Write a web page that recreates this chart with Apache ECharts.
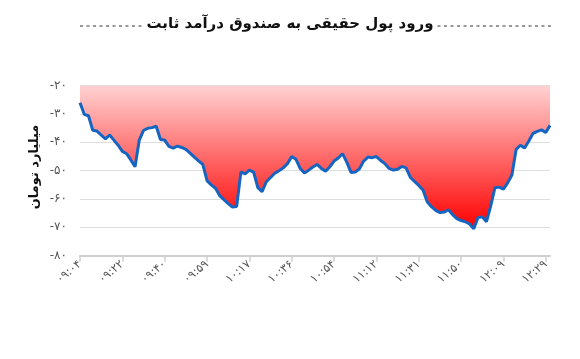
<!DOCTYPE html>
<html>
<head>
<meta charset="utf-8">
<script src="https://cdn.jsdelivr.net/npm/echarts@6/dist/echarts.min.js"></script>
<style>
html,body{margin:0;padding:0;background:#fff;}
#c{width:580px;height:359px;}
</style>
</head>
<body>
<div id="c"></div>
<script>
var titleText = 'ورود پول حقیقی به صندوق درآمد ثابت';
var yAxisName = 'میلیارد تومان';
var tickLabels = ['09:04','09:22','09:40','09:59','10:17','10:36','10:54','11:12','11:31','11:50','12:09','12:29'];
var values = [
 -26, -30.1, -30.6, -35.7, -36.0, -37.4, -38.8, -37.4, -39.2, -41.0,
 -43.2, -44.0, -46.2, -48.6, -39.2, -35.8, -35.0, -34.8, -34.3, -39.0,
 -39.2, -41.4, -42.0, -41.3, -41.8, -42.5, -43.8, -45.2, -46.5, -47.8,
 -53.5, -55.0, -56.2, -58.8, -60.2, -61.6, -62.8, -62.6, -50.4, -51.1,
 -49.8, -50.5, -56.0, -57.4, -53.9, -52.4, -50.9, -50.0, -49.0, -47.5,
 -45.0, -46.0, -49.2, -50.8, -49.8, -48.7, -47.8, -49.2, -50.2, -48.6,
 -46.6, -45.5, -44.0, -47.0, -50.6, -50.5, -49.3, -46.6, -45.2, -45.4,
 -45.0, -46.4, -47.5, -49.2, -49.8, -49.5, -48.5, -49.0, -52.3, -53.8,
 -55.2, -56.8, -61.0, -62.7, -64.0, -64.8, -64.6, -63.8, -65.5, -66.9,
 -67.6, -68.0, -68.8, -70.5, -66.5, -66.3, -68.0, -62.4, -56.0, -55.8,
 -56.5, -54.3, -51.5, -42.5, -41.0, -42.0, -39.5, -36.8, -36.1, -35.6,
 -36.5, -34.0
];
var labelStep = 10;

function toFa(s){
  return String(s).replace(/[0-9]/g, function(d){ return String.fromCharCode(0x06F0 + (+d)); });
}
var categories = values.map(function(v,i){ return i; });

var chart = echarts.init(document.getElementById('c'));
chart.setOption({
  backgroundColor:'#fff',
  animation:false,
  grid:{left:80, right:30, top:85.7, bottom:103.3},
  graphic:[
    {type:'line', shape:{x1:80,y1:26,x2:552,y2:26}, style:{stroke:'#333', lineWidth:1.2, lineDash:[3,3.5]}},
    {type:'text', left:'center', top:17, style:{text:titleText, font:'bold 15px "DejaVu Sans", sans-serif', fill:'#111', backgroundColor:'#fff', padding:[0,2]}},
    {type:'text', x:35, y:167, rotation:Math.PI/2, style:{text:yAxisName, font:'bold 13px "DejaVu Sans", sans-serif', fill:'#111', align:'center', verticalAlign:'middle'}}
  ],
  xAxis:{
    type:'category', data:categories, boundaryGap:false,
    axisLine:{lineStyle:{color:'#cfcfcf', width:2}},
    axisTick:{interval:labelStep-1, length:6, lineStyle:{color:'#cfcfcf', width:1.5}},
    axisLabel:{interval:labelStep-1, rotate:40, margin:7, color:'#555', fontSize:11.5, fontFamily:'"DejaVu Sans", sans-serif',
      formatter:function(v, idx){ return toFa(tickLabels[Math.round(idx/labelStep)] || ''); }},
    splitLine:{show:false}
  },
  yAxis:{
    type:'value', min:-80, max:-20, interval:10,
    axisLine:{show:false}, axisTick:{show:false},
    axisLabel:{color:'#555', fontSize:12, margin:13, fontFamily:'"DejaVu Sans", sans-serif',
      formatter:function(v){ return toFa(v); }},
    splitLine:{lineStyle:{color:'#dedede', width:1}}
  },
  series:[{
    type:'line', data:values, symbol:'none', smooth:false,
    lineStyle:{color:'#1565c0', width:3},
    areaStyle:{origin:'end', opacity:1,
      color:new echarts.graphic.LinearGradient(0,0,0,1,[{offset:0,color:'#ffd2d2'},{offset:1,color:'#ff0000'}])}
  }]
});
</script>
</body>
</html>
